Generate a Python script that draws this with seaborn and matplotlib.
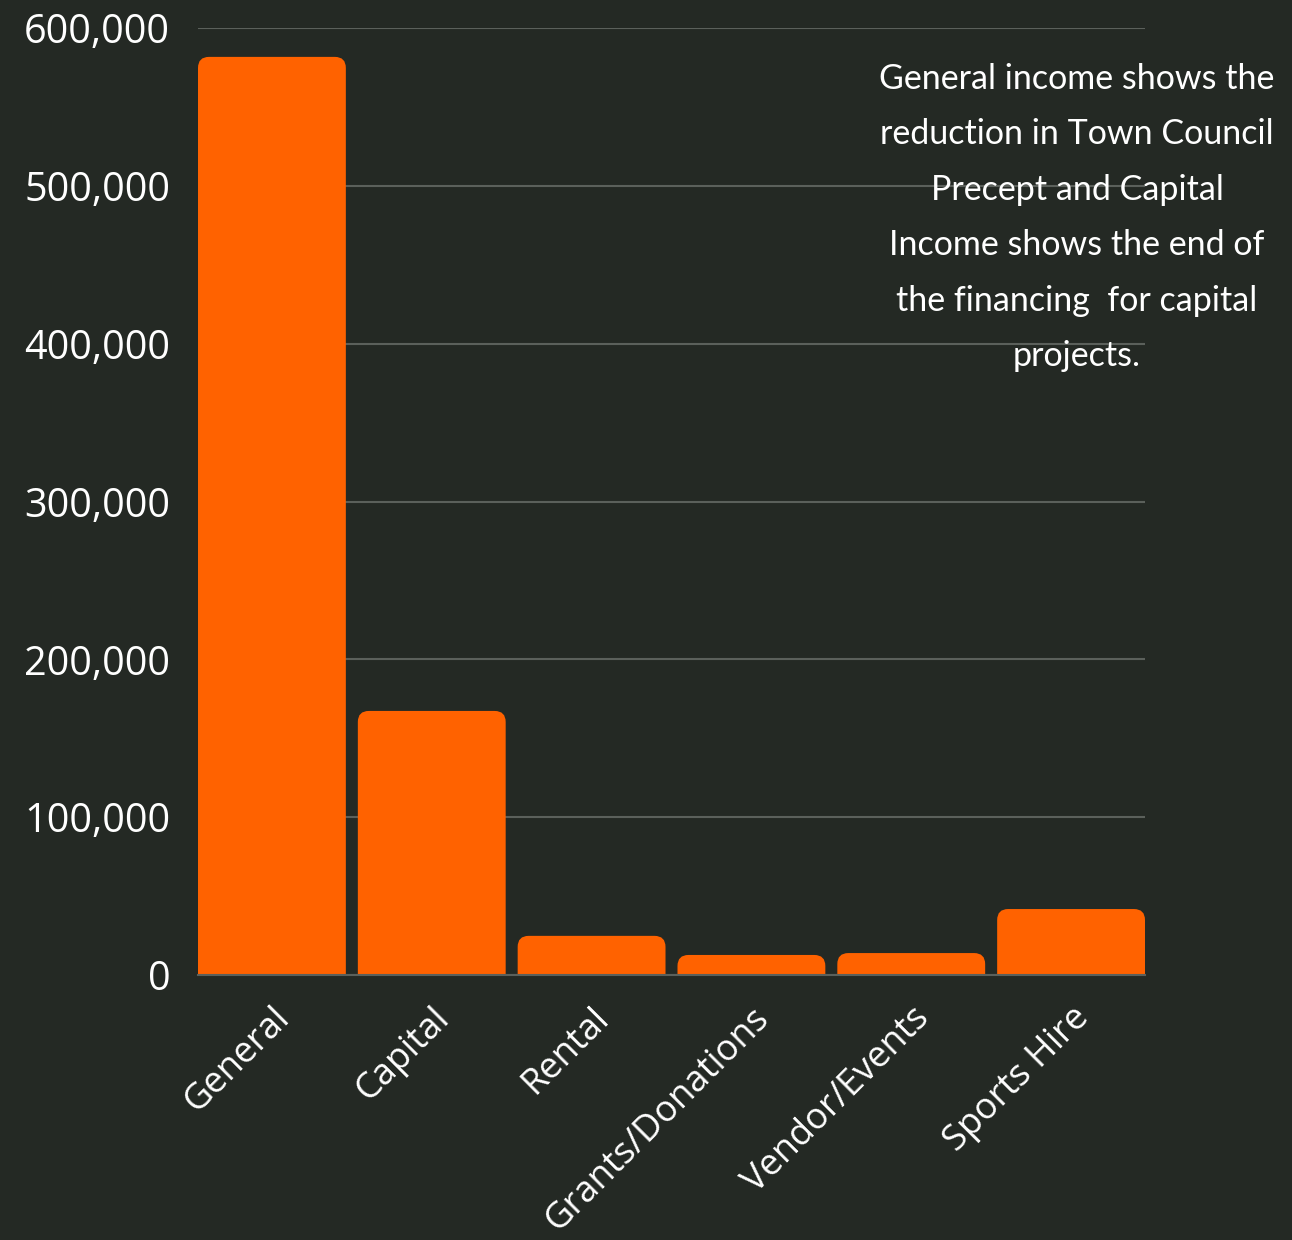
import matplotlib
matplotlib.use("Agg")
import matplotlib.pyplot as plt
from matplotlib.patches import FancyBboxPatch
import seaborn as sns
import pandas as pd

# data
categories = ["General", "Capital", "Rental", "Grants/Donations", "Vendor/Events", "Sports Hire"]
income = [581700, 167300, 24800, 12700, 13900, 41800]
y_ticks = [0, 100000, 200000, 300000, 400000, 500000, 600000]
note_lines = [
    "General income shows the",
    "reduction in Town Council",
    "Precept and Capital",
    "Income shows the end of",
    "the financing  for capital",
    "projects.",
]

BG = "#242924"
BAR = "#ff6200"
GRID = "#5b605b"

sns.set_theme(style="dark")
plt.rcParams['font.family'] = ['Open Sans', 'DejaVu Sans']

df = pd.DataFrame({"category": categories, "income": income})

fig = plt.figure(figsize=(12.92, 12.40), dpi=100, facecolor=BG)
ax = fig.add_axes([198 / 1292, 1 - 975 / 1240, (1145 - 198) / 1292, (975 - 28) / 1240])
ax.set_facecolor(BG)

bar_w = 0.925
sns.barplot(data=df, x="category", y="income", color=BAR, width=bar_w, saturation=1, ax=ax, zorder=3)

ax.set_xlim(-bar_w / 2, len(categories) - 1 + bar_w / 2)
ax.set_ylim(0, 600000)

# rounded top corners: replace each bar by a rounded box whose bottom is clipped away
px_x = (len(categories) - 1 + bar_w) / 947.0
px_y = 600000 / 947.0
r_px = 11
for p in list(ax.patches):
    x0, w, h = p.get_x(), p.get_width(), p.get_height()
    off = 2 * r_px * px_y
    rb = FancyBboxPatch((x0, -off), w, h + off,
                        boxstyle=f"round,pad=0,rounding_size={r_px * px_x}",
                        mutation_aspect=px_y / px_x,
                        facecolor=BAR, edgecolor="none", zorder=3)
    ax.add_patch(rb)
    p.set_visible(False)

ax.set_yticks(y_ticks)
ax.set_yticklabels([f"{v:,}" for v in y_ticks])
ax.grid(axis="y", color=GRID, linewidth=1.5, zorder=0)
ax.grid(axis="x", visible=False)
for s in ["top", "right", "left"]:
    ax.spines[s].set_visible(False)
ax.spines["bottom"].set_color(GRID)
ax.spines["bottom"].set_linewidth(1.5)
ax.spines["bottom"].set_zorder(4)

ax.tick_params(axis="y", length=0, pad=20, labelsize=28.5, labelcolor="white")
ax.tick_params(axis="x", length=0, pad=18, labelsize=26, labelcolor="white")
plt.setp(ax.get_xticklabels(), rotation=45, ha="right", rotation_mode="anchor")
ax.set_xlabel("")
ax.set_ylabel("")

fig.text(1077 / 1292, 1 - 63 / 1240, "\n".join(note_lines), ha="center", va="top",
         color="white", fontsize=24.5, linespacing=1.9, family=["Lato", "DejaVu Sans"], zorder=5)

fig.savefig("out.png", dpi=100, facecolor=BG)
